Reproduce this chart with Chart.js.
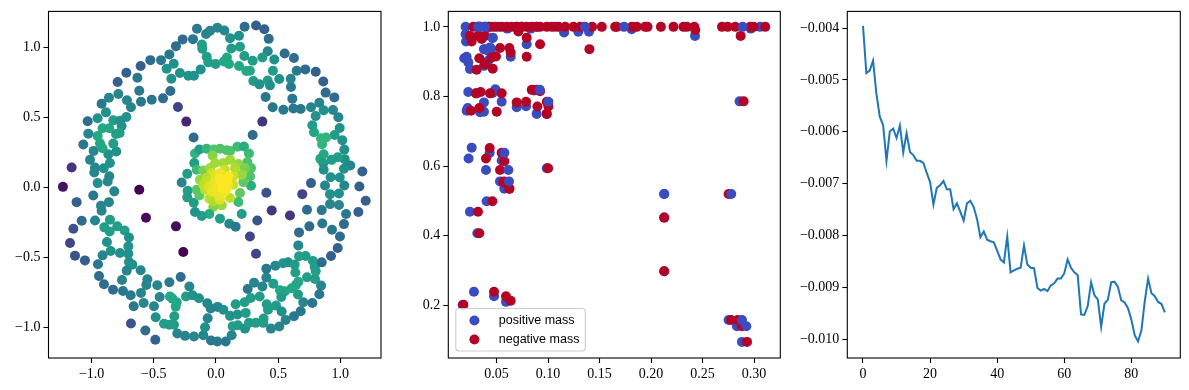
<!DOCTYPE html>
<html>
<head>
<meta charset="utf-8">
<title>mass plots</title>
<script src="https://cdn.jsdelivr.net/npm/chart.js@4"></script>
<style>
  html, body { margin: 0; padding: 0; background: #fff; }
  canvas { position: absolute; top: 0; }
</style>
</head>
<body>
<canvas id="ringChart" width="395" height="390" style="left:0"></canvas>
<canvas id="massChart" width="395" height="390" style="left:395px"></canvas>
<canvas id="lossChart" width="399" height="390" style="left:790px"></canvas>
<script>
// left panel: outer ring, upper half
const upperX = [
  -0.153,-0.080,-0.048,0.011,0.067,0.113,0.185,0.230,0.322,0.389,
  0.424,0.416,0.373,0.295,0.228,0.193,0.123,-0.113,-0.110,-0.185,
  -0.268,-0.322,-0.375,-0.442,-0.528,-0.606,-0.721,-0.791,-0.632,-0.340,
  -0.397,-0.359,-0.290,-0.222,-0.177,-0.123,-0.075,-0.062,-0.003,0.064,
  0.088,0.105,0.185,0.244,0.273,0.300,0.349,0.416,0.434,0.458,
  0.469,0.509,0.552,0.627,0.649,0.718,0.802,0.863,0.882,0.952,
  0.831,0.866,0.941,0.984,0.995,0.954,1.016,1.032,1.035,1.080,
  1.177,1.153,0.764,0.877,0.922,0.995,1.032,1.029,0.979,0.930,
  0.866,0.839,0.863,0.866,0.885,0.845,0.853,0.788,0.775,0.802,
  0.764,0.681,0.622,0.542,0.456,0.399,0.614,0.603,0.601,-0.367,
  -0.426,-0.517,-0.603,-0.617,-0.684,-0.716,-0.785,-0.861,-0.920,-0.885,
  -0.952,-1.032,-1.027,-1.067,-0.984,-1.013,-0.973,-0.979,-0.952,-0.871,
  -0.858,-0.903,-0.853,-0.866,-0.802,-0.826,-0.912,-0.933,-0.952,-0.912,
  -0.858,-0.826,-0.770,-0.721,-0.759,-0.775,-0.804,-1.161,-1.231,-0.617,
  -0.818,-0.306,-0.239,0.373,-0.180,0.295
];
const upperY = [
  1.131,1.093,1.116,1.138,1.119,1.064,1.081,1.145,1.154,1.128,
  1.059,0.971,0.926,0.903,0.936,1.002,0.990,1.019,0.988,1.057,
  1.055,1.007,0.948,0.907,0.907,0.865,0.817,0.751,0.781,0.881,
  0.846,0.774,0.815,0.796,0.796,0.841,0.931,0.891,0.879,0.898,
  0.926,0.879,0.865,0.829,0.831,0.758,0.734,0.762,0.727,0.831,
  0.912,0.772,0.955,0.922,0.831,0.841,0.824,0.755,0.675,0.641,
  0.603,0.549,0.551,0.499,0.423,0.373,0.335,0.268,0.200,0.154,
  0.112,0.005,0.029,0.012,0.071,0.069,0.012,0.131,0.214,0.195,
  0.235,0.202,0.171,0.124,0.354,0.349,0.306,0.392,0.442,0.508,
  0.570,0.558,0.561,0.553,0.570,0.644,0.632,0.715,0.774,0.686,
  0.634,0.625,0.610,0.689,0.570,0.620,0.665,0.639,0.596,0.534,
  0.492,0.470,0.382,0.304,0.259,0.195,0.140,0.105,0.029,0.040,
  0.078,0.135,0.173,0.235,0.254,0.311,0.278,0.314,0.366,0.420,
  0.420,0.477,0.475,0.501,0.437,0.387,0.380,0.140,0.002,-0.019,
  -0.030,0.572,0.468,0.468,0.354,0.373
];
const upperShade = [
  .4,.45,.45,.45,.45,.5,.5,.35,.3,.3,
  .35,.45,.55,.55,.55,.55,.55,.55,.55,.4,
  .35,.35,.4,.4,.35,.3,.3,.3,.4,.5,
  .5,.5,.5,.5,.5,.5,.55,.55,.55,.6,
  .6,.6,.6,.6,.6,.55,.5,.55,.5,.55,
  .5,.5,.35,.35,.4,.35,.3,.3,.35,.35,
  .45,.5,.45,.45,.5,.55,.5,.5,.5,.45,
  .3,.3,.3,.45,.5,.5,.45,.5,.55,.55,
  .6,.6,.55,.5,.65,.65,.65,.6,.55,.5,
  .45,.4,.4,.4,.4,.4,.4,.4,.45,.35,
  .35,.4,.4,.4,.45,.45,.45,.45,.4,.5,
  .5,.35,.45,.4,.45,.45,.45,.45,.5,.45,
  .45,.5,.5,.5,.5,.55,.6,.6,.6,.6,
  .6,.55,.5,.5,.5,.55,.55,.15,.05,0,
  .45,.2,.1,.15,.35,.35
];

// left panel: outer ring, lower half
const lowerX = [
  -0.987,-1.121,-0.925,-0.861,-0.920,-1.080,-0.973,-0.853,-1.147,-0.898,
  -0.855,-0.794,-0.735,-0.700,-1.174,-0.877,-0.705,-0.847,-0.772,-0.705,
  -1.134,-0.912,-1.054,-0.949,-0.700,-0.673,-0.718,-0.606,-0.941,-0.756,
  -0.552,-0.901,-0.560,-0.828,-0.748,-0.686,-0.603,-0.472,-0.375,-0.284,
  -0.214,-0.453,-0.370,-0.351,-0.316,-0.324,-0.241,-0.188,-0.137,-0.070,
  -0.043,0.013,0.059,0.113,0.172,0.239,0.158,0.230,0.279,0.351,
  0.255,0.306,0.373,0.405,0.405,0.477,0.539,0.579,0.633,0.638,
  0.668,0.721,0.780,0.794,0.802,0.732,0.796,0.662,0.643,0.609,
  0.555,0.515,0.525,0.461,0.660,0.702,0.845,0.831,0.775,0.850,
  0.925,0.979,0.997,0.933,0.855,0.751,0.668,0.662,1.029,1.145,
  1.046,0.850,0.732,0.595,0.448,0.332,0.273,0.322,0.405,0.694,
  0.917,0.989,0.917,0.989,1.204,-0.263,-0.322,-0.563,-0.684,-0.568,
  -0.488,-0.662,-0.582,-0.499,-0.485,-0.418,-0.375,-0.338,-0.335,-0.311,
  -0.249,-0.177,-0.102,-0.088,-0.067,-0.040,0.011,0.078,0.126,0.134,
  0.177,0.233,0.265,0.319,0.381,0.383,0.418,0.408,0.483,0.528,
  0.560,0.509,0.442,0.627,0.681
];
const lowerY = [
  -0.059,-0.107,-0.133,-0.107,-0.169,-0.240,-0.238,-0.233,-0.297,-0.287,
  -0.316,-0.280,-0.309,-0.359,-0.399,-0.392,-0.423,-0.456,-0.470,-0.475,
  -0.489,-0.487,-0.523,-0.551,-0.534,-0.553,-0.596,-0.594,-0.634,-0.663,
  -0.658,-0.694,-0.698,-0.732,-0.741,-0.772,-0.755,-0.701,-0.679,-0.641,
  -0.710,-0.784,-0.781,-0.796,-0.822,-0.853,-0.781,-0.772,-0.793,-0.829,
  -0.867,-0.855,-0.876,-0.919,-0.910,-0.898,-0.836,-0.822,-0.791,-0.781,
  -0.727,-0.682,-0.710,-0.646,-0.582,-0.561,-0.544,-0.537,-0.553,-0.610,
  -0.494,-0.492,-0.527,-0.570,-0.601,-0.644,-0.656,-0.675,-0.698,-0.722,
  -0.743,-0.736,-0.784,-0.689,-0.767,-0.822,-0.703,-0.765,-0.827,-0.537,
  -0.492,-0.435,-0.352,-0.304,-0.259,-0.280,-0.323,-0.416,-0.264,-0.178,
  -0.192,-0.164,-0.162,-0.202,-0.166,-0.238,-0.352,-0.475,-0.040,-0.050,
  -0.121,-0.128,-0.050,-0.045,-0.097,-0.463,-0.280,-0.219,-0.974,-1.024,
  -1.090,-0.850,-0.827,-0.850,-0.929,-0.976,-0.983,-0.983,-0.922,-1.045,
  -1.062,-1.067,-1.057,-1.000,-0.936,-1.095,-1.102,-1.102,-1.057,-0.993,
  -0.986,-1.010,-0.969,-0.969,-0.969,-0.938,-0.876,-0.836,-0.846,-0.888,
  -0.948,-0.995,-1.010,-0.922,-0.886
];
const lowerShade = [
  .4,.3,.45,.45,.45,.35,.45,.55,.25,.55,
  .55,.55,.55,.5,.2,.5,.5,.5,.5,.5,
  .25,.45,.3,.4,.5,.5,.45,.45,.35,.45,
  .45,.35,.45,.35,.4,.4,.45,.45,.4,.35,
  .45,.45,.6,.6,.6,.6,.55,.5,.5,.45,
  .45,.45,.5,.5,.5,.55,.55,.55,.55,.55,
  .4,.45,.45,.45,.4,.45,.5,.5,.55,.55,
  .55,.55,.55,.55,.55,.55,.55,.6,.6,.6,
  .6,.6,.55,.55,.55,.45,.45,.4,.4,.35,
  .3,.3,.35,.4,.4,.35,.35,.45,.35,.3,
  .4,.4,.35,.15,.15,.25,.2,.2,.25,.2,
  .45,.45,.5,.5,.3,0,.03,.03,.25,.35,
  .3,.4,.45,.45,.5,.55,.55,.55,.55,.45,
  .45,.45,.45,.5,.45,.4,.4,.4,.45,.55,
  .55,.5,.55,.55,.55,.55,.55,.55,.55,.5,
  .45,.45,.45,.4,.4
];

// left panel: dense middle blob
const coreX = [
  -0.169,-0.134,-0.075,-0.016,0.032,0.086,0.113,0.172,0.225,0.265,
  0.252,0.282,0.274,0.282,0.220,0.193,0.180,0.046,-0.022,-0.054,
  -0.115,-0.169,-0.179,-0.231,-0.228,-0.276,-0.231,-0.175,-0.155,0.207,
  0.032,0.107,0.158,-0.027,0.059,-0.008,0.113,0.180,-0.102,-0.048,
  -0.155,-0.134,-0.129,0.233,0.207,0.153,0.139,0.139,0.072,-0.035,
  -0.075,-0.102,-0.088,-0.062,-0.054,-0.022,0.113,0.032,-0.008,-0.035,
  0.005,0.099,0.059,0.059,0.099,0.032,0.027,
  -0.030,0.020,0.080,0.000,0.030,0.090,0.050,0.060
];
const coreY = [
  0.240,0.269,0.274,0.269,0.274,0.264,0.259,0.288,0.290,0.240,
  0.179,0.136,0.076,0.010,0.036,-0.042,-0.106,-0.130,-0.142,-0.192,
  -0.206,-0.177,-0.111,-0.073,-0.026,0.033,0.095,0.172,0.124,-0.192,
  -0.225,-0.261,-0.282,0.226,0.172,0.172,0.195,0.165,0.119,0.136,
  -0.019,-0.059,0.053,0.136,0.088,0.136,0.017,0.076,0.124,0.100,
  0.065,0.017,-0.019,0.005,-0.083,-0.102,-0.078,-0.090,0.088,-0.031,
  0.041,0.017,-0.042,0.041,0.076,0.100,-0.026,
  0.020,-0.060,-0.020,0.000,0.060,0.050,-0.010,0.020
];
const coreShade = [
  .65,.55,.65,.72,.72,.72,.72,.68,.62,.68,
  .72,.72,.72,.62,.75,.75,.68,.85,.82,.62,
  .55,.5,.55,.55,.55,.45,.55,.55,.68,.55,
  .55,.45,.4,.82,.86,.86,.86,.84,.8,.86,
  .74,.74,.84,.8,.85,.88,.92,.92,.92,.92,
  .9,.9,.9,.94,.9,.88,.9,.95,.95,.97,
  .97,.97,.99,.99,1,.98,1,
  .96,.97,.99,.98,1,1,1,1
];

// middle panel
const positiveX = [
  0.0200,0.0314,0.0340,0.0388,0.0421,0.0518,0.0605,0.0696,0.0744,0.0832,
  0.0890,0.1068,0.1156,0.1294,0.1398,0.1812,0.2427,0.2968,0.3058,0.0200,
  0.0204,0.0463,0.0793,0.0210,0.0187,0.0226,0.0242,0.0378,0.0447,0.0421,
  0.0378,0.0421,0.0638,0.0226,0.0307,0.0220,0.0210,0.0340,0.0378,0.0378,
  0.0463,0.0489,0.0550,0.0696,0.0787,0.0890,0.0864,0.0988,0.2860,0.0259,
  0.0229,0.0434,0.0398,0.0550,0.0534,0.0576,0.0988,0.2128,0.0404,0.0242,
  0.0314,0.0281,0.0476,0.0592,0.0171,0.2753,0.2834,0.2883,0.2128,0.2128
];
const positiveY = [
  1.000,1.000,1.000,1.000,1.000,1.000,0.995,1.000,1.000,0.995,
  1.000,1.000,0.984,0.986,0.986,0.993,0.974,0.995,1.000,0.979,
  0.958,0.968,0.950,0.914,0.910,0.898,0.879,0.936,0.936,0.903,
  0.888,0.931,0.914,0.813,0.809,0.767,0.759,0.755,0.756,0.783,
  0.810,0.821,0.785,0.769,0.772,0.750,0.817,0.750,0.786,0.653,
  0.622,0.638,0.589,0.616,0.556,0.535,0.594,0.520,0.499,0.469,
  0.407,0.239,0.226,0.210,0.201,0.158,0.140,0.095,0.452,0.298
];
const negativeX = [
  0.0275,0.0323,0.0421,0.0453,0.0486,0.0550,0.0599,0.0647,0.0696,0.0744,
  0.0793,0.0842,0.0890,0.0923,0.0988,0.1036,0.1101,0.1166,0.1247,0.1312,
  0.1428,0.1522,0.1652,0.1668,0.1814,0.1862,0.1943,0.1966,0.2096,0.2218,
  0.2315,0.2348,0.2420,0.2430,0.2689,0.2744,0.2818,0.2996,0.2964,0.3109,
  0.0712,0.2870,0.1402,0.0923,0.0793,0.0793,0.0242,0.0259,0.0323,0.0356,
  0.0388,0.0534,0.0625,0.0638,0.0307,0.0333,0.0388,0.0463,0.0453,0.0495,
  0.0346,0.0301,0.0550,0.0437,0.0252,0.0333,0.0502,0.0696,0.0787,0.0842,
  0.0890,0.0923,0.0897,0.0988,0.1004,0.0988,0.2899,0.0434,0.0398,0.0550,
  0.0576,0.0534,0.0573,0.0625,0.1001,0.0625,0.0460,0.0320,0.0333,0.0476,
  0.0592,0.0638,0.0178,0.2128,0.2128,0.2753,0.2777,0.2841,0.2883,0.2932,
  0.0566
];
const negativeY = [
  1.000,1.000,1.000,1.000,1.000,1.000,1.000,1.000,1.000,1.000,
  1.000,1.000,1.000,1.000,1.000,1.000,1.000,1.000,1.000,1.000,
  1.000,1.000,1.000,1.000,1.000,1.000,1.000,1.000,1.000,1.000,
  1.000,1.000,1.000,0.991,1.000,1.000,1.000,1.000,1.000,1.000,
  0.987,0.974,0.936,0.950,0.914,0.969,0.974,0.958,0.974,0.965,
  0.974,0.939,0.939,0.926,0.877,0.910,0.893,0.880,0.912,0.915,
  0.813,0.809,0.809,0.809,0.759,0.767,0.756,0.783,0.785,0.819,
  0.819,0.815,0.771,0.785,0.771,0.750,0.786,0.652,0.622,0.638,
  0.614,0.589,0.556,0.535,0.594,0.535,0.499,0.469,0.407,0.239,
  0.226,0.213,0.202,0.452,0.298,0.520,0.158,0.158,0.140,0.095,
  0.554
];
// these blue points sit above the red ones in the picture
const positiveTopX = [0.0323,0.0345,0.0388,0.0463,0.0388,0.0437,0.1359,0.1738,0.2890,0.0920,0.1004,0.0576,0.0615,0.0621,0.2128,0.2779,0.2883,0.2925];
const positiveTopY = [1.000,1.000,1.000,0.969,0.936,0.941,1.000,1.000,1.000,0.819,0.785,0.638,0.589,0.556,0.520,0.520,0.158,0.140];

// right panel
const lossValues = [
  -0.00396,-0.00487,-0.00482,-0.00463,-0.00527,-0.00571,-0.00587,-0.00656,-0.00599,-0.00594,
  -0.00612,-0.00588,-0.00640,-0.00603,-0.00639,-0.00645,-0.00656,-0.00656,-0.00660,-0.00679,
  -0.00697,-0.00740,-0.00708,-0.00703,-0.00695,-0.00711,-0.00711,-0.00749,-0.00738,-0.00754,
  -0.00771,-0.00738,-0.00733,-0.00745,-0.00768,-0.00803,-0.00792,-0.00808,-0.00811,-0.00813,
  -0.00829,-0.00846,-0.00852,-0.00802,-0.00871,-0.00867,-0.00864,-0.00862,-0.00819,-0.00856,
  -0.00862,-0.00863,-0.00901,-0.00906,-0.00903,-0.00907,-0.00896,-0.00892,-0.00883,-0.00883,
  -0.00873,-0.00846,-0.00862,-0.00871,-0.00876,-0.00952,-0.00953,-0.00936,-0.00890,-0.00915,
  -0.00923,-0.00976,-0.00931,-0.00924,-0.00890,-0.00889,-0.00899,-0.00925,-0.00929,-0.00940,
  -0.00962,-0.00992,-0.01004,-0.00983,-0.00927,-0.00883,-0.00911,-0.00917,-0.00928,-0.00932,
  -0.00948
];

// tick labels
const ringTicksX = [-1, -0.5, 0, 0.5, 1];
const ringTicksY = [-1, -0.5, 0, 0.5, 1];
const massTicksX = [0.05, 0.10, 0.15, 0.20, 0.25, 0.30];
const massTicksY = [0.2, 0.4, 0.6, 0.8, 1.0];
const lossTicksX = [0, 20, 40, 60, 80];
const lossTicksY = [-0.010, -0.009, -0.008, -0.007, -0.006, -0.005, -0.004];

const legendLabels = ['positive mass', 'negative mass'];

const BLUE = '#3b4cc0';
const RED = '#b40426';
const DOT = 5;

// viridis, sampled every tenth
const viridisStops = ['#440154','#482475','#414487','#355f8d','#2a788e','#21918c','#22a884','#44bf70','#7ad151','#bddf26','#fde725'];

function viridis(t) {
    const p = Math.min(t * 10, 9.999);
    const i = Math.floor(p);
    const a = parseInt(viridisStops[i].slice(1), 16);
    const b = parseInt(viridisStops[i + 1].slice(1), 16);
    const f = p - i;
    const mix = s => Math.round(((a >> s) & 255) * (1 - f) + ((b >> s) & 255) * f);
    return 'rgb(' + mix(16) + ',' + mix(8) + ',' + mix(0) + ')';
}

function zip(xs, ys) {
    return xs.map((x, i) => ({ x: x, y: ys[i] }));
}

const signed = digits => v => (v < 0 ? '\u2212' : '') + Math.abs(v).toFixed(digits);

Chart.defaults.font.family = '"Liberation Serif", serif';
Chart.defaults.font.size = 14;
Chart.defaults.color = '#000';
Chart.defaults.animation = false;
Chart.defaults.responsive = false;

function axis(min, max, ticks, digits, fit) {
    return {
        type: 'linear',
        min: min,
        max: max,
        afterBuildTicks: a => { a.ticks = ticks.map(v => ({ value: v })); },
        afterFit: fit,
        border: { display: false },
        grid: { drawOnChartArea: false, tickLength: 5, tickWidth: 1.1, tickColor: '#000' },
        ticks: { autoSkip: false, maxRotation: 0, padding: 3, callback: signed(digits) }
    };
}

const boxFrame = {
    id: 'boxFrame',
    afterDraw(chart) {
        const a = chart.chartArea;
        const c = chart.ctx;
        c.save();
        c.strokeStyle = '#000';
        c.lineWidth = 1.1;
        c.strokeRect(a.left, a.top, a.right - a.left, a.bottom - a.top);
        c.restore();
    }
};

// matplotlib style legend box, bottom left of the axes
const cornerLegend = {
    id: 'cornerLegend',
    afterDatasetsDraw(chart) {
        const c = chart.ctx;
        const a = chart.chartArea;
        const x = a.left + 7.5, y = a.bottom - 49.5, w = 129.5, h = 42.5;
        c.save();
        c.beginPath();
        c.roundRect(x, y, w, h, 3);
        c.fillStyle = 'rgba(255,255,255,0.8)';
        c.fill();
        c.strokeStyle = '#ccc';
        c.lineWidth = 1.1;
        c.stroke();
        c.font = '12.5px "Liberation Sans", sans-serif';
        c.textBaseline = 'alphabetic';
        legendLabels.forEach((label, i) => {
            const rowY = y + 12 + i * 19;
            c.beginPath();
            c.arc(x + 18.6, rowY, DOT, 0, Math.PI * 2);
            c.fillStyle = i === 0 ? BLUE : RED;
            c.fill();
            c.fillStyle = '#000';
            c.fillText(label, x + 43, rowY + 3.5);
        });
        c.restore();
    }
};

new Chart(document.getElementById('ringChart'), {
    type: 'scatter',
    data: {
        datasets: [{
            data: zip(upperX.concat(lowerX, coreX), upperY.concat(lowerY, coreY)),
            backgroundColor: upperShade.concat(lowerShade, coreShade).map(viridis),
            borderWidth: 0,
            pointRadius: DOT
        }]
    },
    options: {
        layout: { padding: { top: 10.5, right: 14 } },
        plugins: { legend: { display: false }, tooltip: { enabled: false } },
        scales: {
            x: axis(-1.347, 1.327, ringTicksX, 1, s => { s.height = 32; }),
            y: axis(-1.22, 1.255, ringTicksY, 1, s => { s.width = 48.5; })
        }
    },
    plugins: [boxFrame]
});

new Chart(document.getElementById('massChart'), {
    type: 'scatter',
    data: {
        datasets: [
            { label: legendLabels[0], data: zip(positiveX, positiveY), backgroundColor: BLUE, borderWidth: 0, pointRadius: DOT, order: 3 },
            { label: legendLabels[1], data: zip(negativeX, negativeY), backgroundColor: RED, borderWidth: 0, pointRadius: DOT, order: 2 },
            { data: zip(positiveTopX, positiveTopY), backgroundColor: BLUE, borderWidth: 0, pointRadius: DOT, order: 1 }
        ]
    },
    options: {
        layout: { padding: { top: 10.5, right: 9.7 } },
        plugins: { legend: { display: false }, tooltip: { enabled: false } },
        scales: {
            x: axis(0.0032, 0.3255, massTicksX, 2, s => { s.height = 32; }),
            y: axis(0.0487, 1.0444, massTicksY, 1, s => { s.width = 53.3; })
        }
    },
    plugins: [cornerLegend, boxFrame]
});

new Chart(document.getElementById('lossChart'), {
    type: 'line',
    data: {
        labels: lossValues.map((_, i) => i),
        datasets: [{
            data: lossValues,
            borderColor: '#1f77b4',
            borderWidth: 2,
            pointRadius: 0,
            tension: 0,
            fill: false
        }]
    },
    options: {
        layout: { padding: { top: 10.5, right: 8.7 } },
        plugins: { legend: { display: false }, tooltip: { enabled: false } },
        scales: {
            x: axis(-4.68, 94.6, lossTicksX, 0, s => { s.height = 32; }),
            y: axis(-0.01036, -0.00368, lossTicksY, 3, s => { s.width = 57.3; })
        }
    },
    plugins: [boxFrame]
});
</script>
</body>
</html>
